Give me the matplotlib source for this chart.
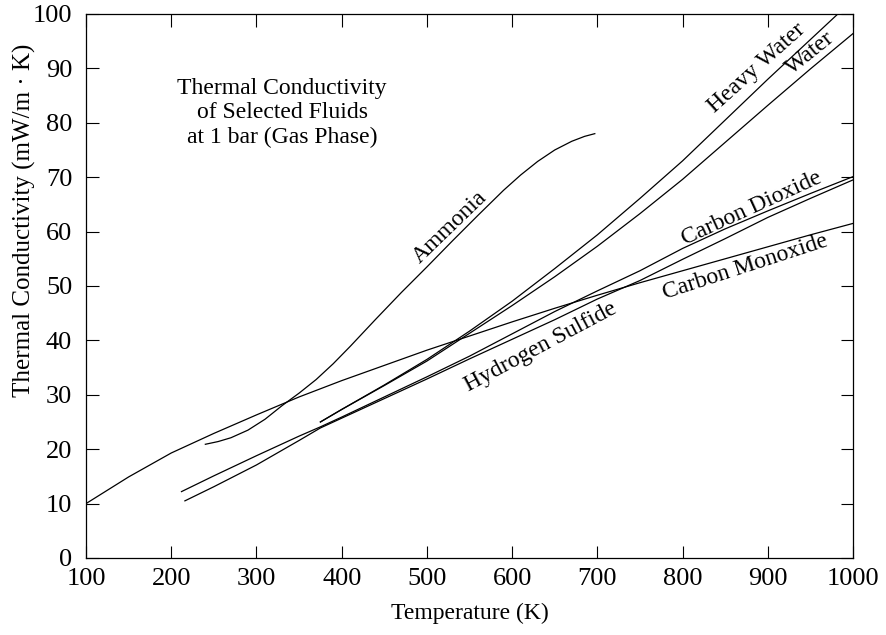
import matplotlib.pyplot as plt

plt.rcParams['font.family'] = ['Liberation Serif', 'DejaVu Serif']

# thermal conductivity (mW/m.K) vs temperature (K), gas phase at 1 bar
t_co = [100, 150, 200, 250, 300, 350, 400, 450, 500, 550, 600, 650, 700, 750, 800, 850, 900, 950, 1000]
k_co = [10.0, 14.9, 19.3, 22.9, 26.3, 29.6, 32.6, 35.4, 38.2, 40.8, 43.4, 45.9, 48.3, 50.6, 52.8, 55.0, 57.2, 59.4, 61.5]

t_nh3 = [240, 255, 270, 290, 310, 330, 350, 370, 390, 410, 440, 470, 500, 530, 560, 590,
         610, 630, 650, 670, 685, 697]
k_nh3 = [20.9, 21.4, 22.1, 23.5, 25.5, 28.0, 30.3, 32.8, 35.7, 38.9, 43.9, 48.8, 53.5, 58.3,
         63.0, 67.6, 70.4, 72.9, 75.0, 76.6, 77.5, 78.0]

t_h2o = [375, 400, 450, 500, 550, 600, 650, 700, 750, 800, 850, 900, 950, 1000]
k_h2o = [25.0, 27.3, 31.7, 36.2, 41.3, 46.4, 51.7, 57.3, 63.3, 69.6, 76.4, 83.2, 89.9, 96.4]
k_d2o = [25.0, 27.3, 31.8, 36.5, 41.7, 47.2, 53.2, 59.4, 66.1, 73.0, 80.5, 88.0, 95.3, 102.6]

t_co2 = [212, 250, 300, 350, 375, 400, 450, 500, 550, 600, 650, 700, 750, 800, 850, 900, 950, 1000]
k_co2 = [12.2, 15.1, 18.8, 22.4, 24.1, 25.9, 29.6, 33.3, 37.1, 41.2, 45.3, 49.1, 52.8, 56.9, 60.5, 63.8, 67.0, 70.1]

t_h2s = [216, 250, 300, 350, 375, 400, 450, 500, 550, 600, 650, 700, 750, 800, 850, 900, 950, 1000]
k_h2s = [10.5, 13.1, 17.1, 21.6, 23.9, 25.7, 29.3, 32.9, 36.6, 40.2, 43.8, 47.6, 51.0, 54.9, 58.7, 62.6, 66.1, 69.5]

fig = plt.figure(figsize=(8.87, 6.35), dpi=100)
ax = fig.add_axes([0.097, 0.1213, 0.8647, 0.8567])

for t, k in [(t_co, k_co), (t_nh3, k_nh3), (t_h2o, k_h2o), (t_h2o, k_d2o),
             (t_co2, k_co2), (t_h2s, k_h2s)]:
    ax.plot(t, k, color='black', lw=0.9)

ax.set_xlim(100, 1000)
ax.set_ylim(0, 100)
ax.set_xticks(range(100, 1001, 100))
ax.set_yticks(range(0, 101, 10))
ax.tick_params(direction='in', top=True, right=True, length=9, width=0.8,
               labelsize=19)
ax.tick_params(axis='x', pad=7)
ax.tick_params(axis='y', pad=10)
for s in ax.spines.values():
    s.set_linewidth(0.9)

ax.set_xlabel('Temperature (K)', fontsize=17)
ax.set_ylabel('Thermal Conductivity (mW/m · K)', fontsize=18, va='center')
ax.xaxis.set_label_coords(0.5, -0.083)
ax.yaxis.set_label_coords(-0.08, 0.62)

ax.text(330, 81.8, 'Thermal Conductivity\nof Selected Fluids\nat 1 bar (Gas Phase)',
        ha='center', va='center', fontsize=17, linespacing=1.2)

lab = dict(ha='center', va='center', fontsize=17, rotation_mode='anchor')
ax.text(527, 60.7, 'Ammonia', rotation=44, **lab)
ax.text(887, 90.0, 'Heavy Water', rotation=42, **lab)
ax.text(950, 92.8, 'Water', rotation=39, **lab)
ax.text(881, 64.3, 'Carbon Dioxide', rotation=24.6, **lab)
ax.text(874, 53.5, 'Carbon Monoxide', rotation=18, **lab)
ax.text(633, 38.7, 'Hydrogen Sulfide', rotation=28, **lab)

fig.savefig('out.png', dpi=100)
